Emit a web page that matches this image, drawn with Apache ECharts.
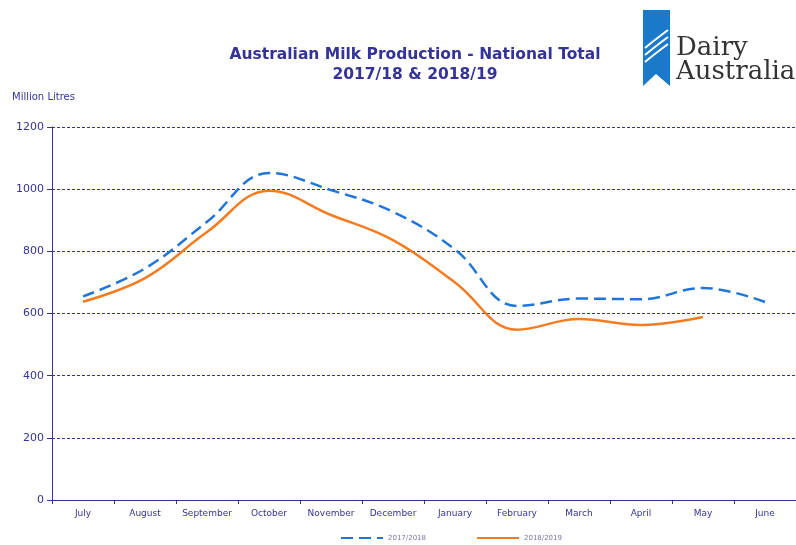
<!DOCTYPE html>
<html>
<head>
<meta charset="utf-8">
<script src="https://cdn.jsdelivr.net/npm/echarts@6/dist/echarts.min.js"></script>
<style>
  html, body { margin: 0; padding: 0; background: #fff; }
  #main { width: 796px; height: 545px; }
</style>
</head>
<body>
<div id="main"></div>
<script>
// 月份
var months = ['July', 'August', 'September', 'October', 'November', 'December',
              'January', 'February', 'March', 'April', 'May', 'June'];
// 2017/2018
var season1718 = [655, 745, 895, 1052, 997, 927, 806, 624, 648, 646, 682, 637];
// 2018/2019
var season1819 = [638, 714, 862, 995, 917, 836, 700, 548, 582, 563, 589];
var seriesNames = ['2017/2018', '2018/2019'];

var navy = '#333399';
var myChart = echarts.init(document.getElementById('main'));
var option = {
    backgroundColor: '#fff',
    animation: false,
    title: {
        text: 'Australian Milk Production - National Total\n2017/18 & 2018/19',
        left: 410,
        top: 40,
        textAlign: 'center',
        textStyle: {
            color: navy,
            fontFamily: 'DejaVu Sans',
            fontSize: 15.5,
            fontWeight: 'bold',
            lineHeight: 20
        }
    },
    legend: {
        top: 534,
        left: 340,
        itemGap: 50,
        itemWidth: 42,
        itemHeight: 10,
        padding: 0,
        itemStyle: { opacity: 0 },
        textStyle: { color: '#7777aa', fontSize: 7, fontFamily: 'DejaVu Sans' },
        data: seriesNames
    },
    grid: {
        left: 52,
        right: -3,
        top: 127,
        bottom: 45,
        containLabel: false
    },
    xAxis: {
        type: 'category',
        data: months,
        boundaryGap: true,
        axisLine: { lineStyle: { color: navy, width: 1 } },
        axisTick: { show: true, interval: 0, alignWithLabel: false, length: 4, lineStyle: { color: navy } },
        axisLabel: { interval: 0, color: navy, fontSize: 9, fontFamily: 'DejaVu Sans', margin: 9 }
    },
    yAxis: {
        type: 'value',
        min: 0,
        max: 1200,
        interval: 200,
        name: 'Million Litres',
        nameLocation: 'end',
        nameGap: 25,
        nameTextStyle: { color: navy, fontSize: 10, fontFamily: 'DejaVu Sans', align: 'left', padding: [0, 0, 0, -40] },
        axisLine: { show: true, lineStyle: { color: navy } },
        axisTick: { show: true, length: 5, lineStyle: { color: navy } },
        axisLabel: {
            color: navy, fontSize: 11, fontFamily: 'DejaVu Sans', margin: 8,
            formatter: function (v) { return String(v); }
        },
        splitLine: { show: true, lineStyle: { color: navy, type: [3, 2], width: 1 } }
    },
    series: [
        {
            name: seriesNames[0],
            type: 'line',
            smooth: 0.4,
            symbol: 'none',
            data: season1718,
            lineStyle: { color: '#2175d9', width: 2.5, type: [12, 6] },
            itemStyle: { color: '#2175d9' }
        },
        {
            name: seriesNames[1],
            type: 'line',
            smooth: 0.4,
            symbol: 'none',
            data: season1819,
            lineStyle: { color: '#f47b20', width: 2.5 },
            itemStyle: { color: '#f47b20' }
        }
    ],
    graphic: [
        // 徽标
        {
            type: 'polygon',
            shape: { points: [[643, 10], [670, 10], [670, 86], [656, 74], [643, 86]] },
            style: { fill: '#1a7ac9' }
        },
        {
            type: 'bezierCurve',
            shape: { x1: 645, y1: 48, x2: 668, y2: 30, cpx1: 652, cpy1: 42, cpx2: 660, cpy2: 36 },
            style: { stroke: '#fff', lineWidth: 2, fill: null }
        },
        {
            type: 'bezierCurve',
            shape: { x1: 645, y1: 55, x2: 668, y2: 37, cpx1: 652, cpy1: 49, cpx2: 660, cpy2: 43 },
            style: { stroke: '#fff', lineWidth: 2, fill: null }
        },
        {
            type: 'bezierCurve',
            shape: { x1: 645, y1: 62, x2: 668, y2: 44, cpx1: 652, cpy1: 56, cpx2: 660, cpy2: 50 },
            style: { stroke: '#fff', lineWidth: 2, fill: null }
        },
        {
            type: 'text',
            left: 676,
            top: 35,
            style: { text: 'Dairy', fill: '#333', font: '26px "DejaVu Serif"' }
        },
        {
            type: 'text',
            left: 676,
            top: 59,
            style: { text: 'Australia', fill: '#333', font: '26px "DejaVu Serif"' }
        }
    ]
};
myChart.setOption(option);
</script>
</body>
</html>
